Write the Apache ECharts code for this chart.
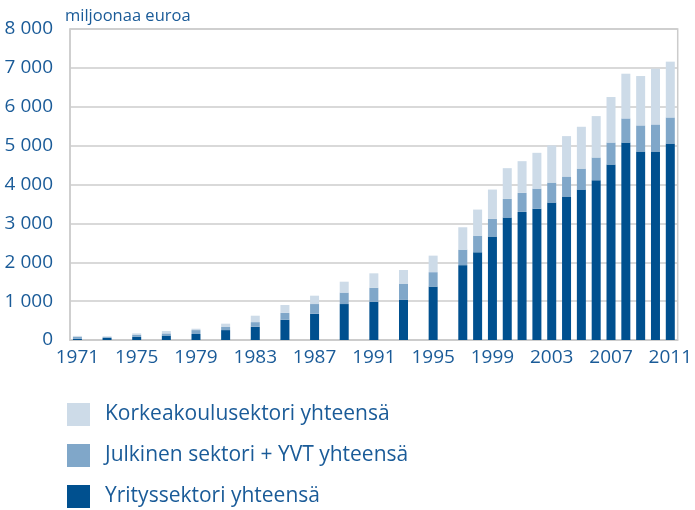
<!DOCTYPE html>
<html lang="fi">
<head>
<meta charset="UTF-8">
<title>T&K-menot sektoreittain</title>
<style>
  html, body { margin: 0; padding: 0; background: #fff; }
  #main { width: 695px; height: 510px; }
</style>
</head>
<body>
<div id="main"></div>
<script src="https://cdn.jsdelivr.net/npm/echarts@6/dist/echarts.min.js"></script>
<script>
// vuodet 1971-2011, välivuosina ei tietoa (null)
var years = [];
for (var y = 1971; y <= 2011; y++) years.push(String(y));

var yritys = [30, null, 55, null, 80, null, 115, null, 155, null, 255, null, 340, null, 520, null, 675, null, 925, null,
  985, null, 1040, null, 1375, null, 1925, 2255, 2660, 3150, 3295, 3375, 3535, 3690, 3870, 4110, 4515, 5080, 4850, 4850, 5055];
var julkinen = [50, null, 20, null, 50, null, 55, null, 100, null, 80, null, 120, null, 180, null, 250, null, 295, null,
  360, null, 400, null, 370, null, 400, 430, 455, 480, 490, 520, 515, 515, 540, 585, 565, 620, 670, 695, 670];
var korkea = [25, null, 20, null, 40, null, 60, null, 35, null, 85, null, 165, null, 200, null, 215, null, 280, null,
  370, null, 360, null, 425, null, 575, 670, 755, 790, 815, 920, 955, 1040, 1075, 1065, 1170, 1150, 1270, 1435, 1435];

var names = ['Yrityssektori yhteensä', 'Julkinen sektori + YVT yhteensä', 'Korkeakoulusektori yhteensä'];
var colors = ['#00508f', '#80a7c9', '#cddbe8'];
var textBlue = '#1a5b98';

var chart = echarts.init(document.getElementById('main'));

function bar(name, data, color) {
  return {
    name: name,
    type: 'bar',
    stack: 'total',
    barWidth: 9,
    data: data,
    itemStyle: { color: color },
    emphasis: { disabled: true }
  };
}

chart.setOption({
  animation: false,
  title: {
    text: 'miljoonaa euroa',
    left: 60,
    top: 3,
    textStyle: { color: textBlue, fontSize: 16.5, fontWeight: 'normal', fontFamily: 'Open Sans' }
  },
  legend: {
    orient: 'vertical',
    left: 67,
    top: 403,
    padding: 0,
    itemWidth: 23,
    itemHeight: 23,
    itemGap: 18,
    icon: 'rect',
    data: [names[2], names[1], names[0]],
    textStyle: { color: textBlue, fontSize: 21, fontFamily: 'Open Sans', padding: [0, 0, 0, 10] }
  },
  grid: {
    left: 70,
    right: 15,
    top: 29,
    bottom: 170,
    show: true,
    borderColor: '#cccccc',
    borderWidth: 1.5
  },
  xAxis: {
    type: 'category',
    data: years,
    boundaryGap: true,
    axisLine: { lineStyle: { color: '#cccccc', width: 1.5 } },
    axisTick: { interval: 0, length: 5, lineStyle: { color: '#cccccc', width: 1.5 } },
    axisLabel: { interval: 3, color: textBlue, fontSize: 19, fontFamily: 'Open Sans', margin: 8 }
  },
  yAxis: {
    type: 'value',
    min: 0,
    max: 8000,
    interval: 1000,
    axisLine: { show: true, lineStyle: { color: '#cccccc', width: 1.5 } },
    axisTick: { show: false },
    splitLine: { lineStyle: { color: '#cccccc', width: 1.5 } },
    axisLabel: {
      color: textBlue,
      fontSize: 19,
      fontFamily: 'Open Sans',
      margin: 17,
      formatter: function (v) {
        return String(v).replace(/\B(?=(\d{3})+(?!\d))/g, ' ');
      }
    }
  },
  series: [
    bar(names[0], yritys, colors[0]),
    bar(names[1], julkinen, colors[1]),
    bar(names[2], korkea, colors[2])
  ]
});
</script>
</body>
</html>
